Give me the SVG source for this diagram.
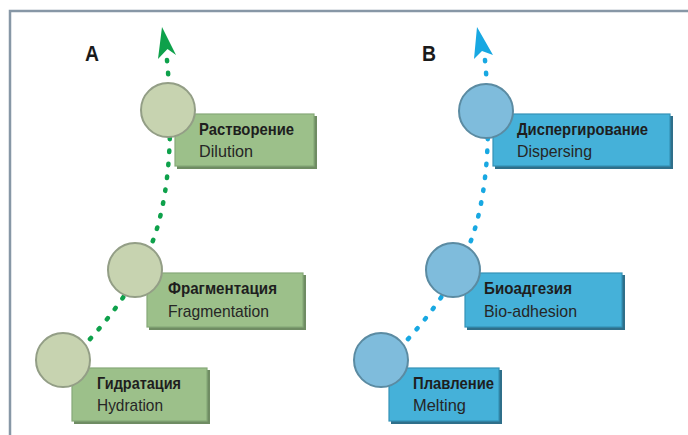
<svg xmlns="http://www.w3.org/2000/svg" width="688" height="435" viewBox="0 0 688 435">
<style>
.frame{fill:none;stroke:#8797a6;stroke-width:2.5}
.lbl{font-family:"Liberation Sans",Arial,sans-serif;font-weight:bold;font-size:22px;fill:#1a1a1a;text-anchor:middle}
.t1{font-family:"Liberation Sans",Arial,sans-serif;font-weight:bold;font-size:16.5px;fill:#1e1e1e}
.t2{font-family:"Liberation Sans",Arial,sans-serif;font-size:17px;fill:#262626}
.gbox{fill:#9cc08a;stroke:#86a878;stroke-width:1.2}
.gsh{fill:#6f8c63}
.gc{fill:#c7d3b0;stroke:#939e86;stroke-width:2}
.bbox{fill:#45b1d9;stroke:#3592b6;stroke-width:1.2}
.bsh{fill:#2f6f8a}
.bc{fill:#7fbcdc;stroke:#5b8ba2;stroke-width:2}
.gd{fill:none;stroke:#0ea14b;stroke-width:4.5;stroke-linecap:round;stroke-dasharray:1.5 11.5}
.bd{fill:none;stroke:#18a8e2;stroke-width:4.5;stroke-linecap:round;stroke-dasharray:1.5 11.5}
</style>
<path class="frame" d="M10,435 V11 H688"/>
<text class="lbl" x="92" y="61" textLength="14" lengthAdjust="spacingAndGlyphs">A</text>
<text class="lbl" x="429" y="61" textLength="14" lengthAdjust="spacingAndGlyphs">B</text>
<g id="connectors">
<path class="gd" d="M72,358 Q140,290 158,225 T167,60"/>
<polygon fill="#0ea14b" points="162,27 176,55 167.5,49 158,59"/>
<path class="bd" d="M390,358 Q458,290 476,225 T485,60"/>
<polygon fill="#18a8e2" points="477,27 493,55 482,51 474,59"/>
</g>
<g id="hydration">
<rect class="gsh" x="74" y="370" width="136" height="54"/>
<rect class="gbox" x="72" y="368" width="135" height="53"/>
<circle class="gc" cx="63" cy="360" r="27"/>
<text class="t1" x="97" y="389" textLength="84" lengthAdjust="spacingAndGlyphs">Гидратация</text>
<text class="t2" x="97" y="411" textLength="66" lengthAdjust="spacingAndGlyphs">Hydration</text>
</g>
<g id="fragmentation">
<rect class="gsh" x="149" y="275" width="157" height="55"/>
<rect class="gbox" x="147" y="273" width="156" height="54"/>
<circle class="gc" cx="135" cy="270" r="27"/>
<text class="t1" x="168" y="294" textLength="109" lengthAdjust="spacingAndGlyphs">Фрагментация</text>
<text class="t2" x="168" y="317" textLength="101" lengthAdjust="spacingAndGlyphs">Fragmentation</text>
</g>
<g id="dilution">
<rect class="gsh" x="177" y="116" width="140" height="53"/>
<rect class="gbox" x="175" y="114" width="139" height="52"/>
<circle class="gc" cx="168" cy="110" r="27"/>
<text class="t1" x="199" y="135" textLength="95" lengthAdjust="spacingAndGlyphs">Растворение</text>
<text class="t2" x="199" y="157" textLength="54" lengthAdjust="spacingAndGlyphs">Dilution</text>
</g>
<g id="melting">
<rect class="bsh" x="391" y="370" width="111" height="54"/>
<rect class="bbox" x="389" y="368" width="110" height="53"/>
<circle class="bc" cx="381" cy="360" r="27"/>
<text class="t1" x="413" y="389" textLength="81" lengthAdjust="spacingAndGlyphs">Плавление</text>
<text class="t2" x="413" y="411" textLength="53" lengthAdjust="spacingAndGlyphs">Melting</text>
</g>
<g id="bioadhesion">
<rect class="bsh" x="467" y="275" width="158" height="55"/>
<rect class="bbox" x="465" y="273" width="157" height="54"/>
<circle class="bc" cx="453" cy="270" r="27"/>
<text class="t1" x="484" y="294" textLength="88" lengthAdjust="spacingAndGlyphs">Биоадгезия</text>
<text class="t2" x="484" y="317" textLength="93" lengthAdjust="spacingAndGlyphs">Bio-adhesion</text>
</g>
<g id="dispersing">
<rect class="bsh" x="495" y="116" width="178" height="53"/>
<rect class="bbox" x="493" y="114" width="177" height="52"/>
<circle class="bc" cx="486" cy="111" r="27"/>
<text class="t1" x="517" y="135" textLength="131" lengthAdjust="spacingAndGlyphs">Диспергирование</text>
<text class="t2" x="517" y="157" textLength="75" lengthAdjust="spacingAndGlyphs">Dispersing</text>
</g>
</svg>
